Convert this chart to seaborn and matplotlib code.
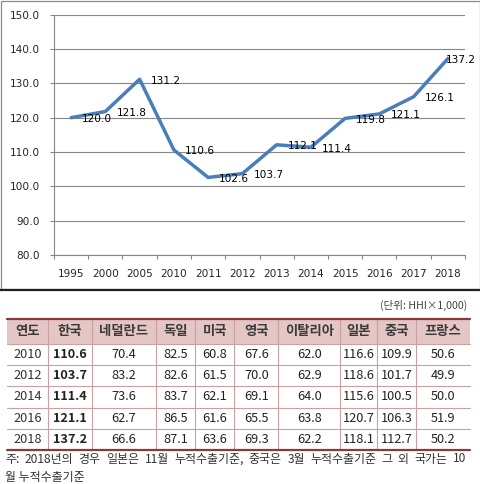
import matplotlib
matplotlib.use('Agg')
import matplotlib.pyplot as plt
from matplotlib.patches import Rectangle
from matplotlib.ticker import FormatStrFormatter
import seaborn as sns
import pandas as pd
import numpy as np

# ---- chart data ----
years = ['1995', '2000', '2005', '2010', '2011', '2012',
         '2013', '2014', '2015', '2016', '2017', '2018']
hhi = [120.0, 121.8, 131.2, 110.6, 102.6, 103.7,
       112.1, 111.4, 119.8, 121.1, 126.1, 137.2]

# ---- table data ----
table_header = ['연도', '한국', '네덜란드', '독일', '미국', '영국',
                '이탈리아', '일본', '중국', '프랑스']
table_years = ['2010', '2012', '2014', '2016', '2018']
korea = [110.6, 103.7, 111.4, 121.1, 137.2]
netherlands = [70.4, 83.2, 73.6, 62.7, 66.6]
germany = [82.5, 82.6, 83.7, 86.5, 87.1]
usa = [60.8, 61.5, 62.1, 61.6, 63.6]
uk = [67.6, 70.0, 69.1, 65.5, 69.3]
italy = [62.0, 62.9, 64.0, 63.8, 62.2]
japan = [116.6, 118.6, 115.6, 120.7, 118.1]
china = [109.9, 101.7, 100.5, 106.3, 112.7]
france = [50.6, 49.9, 50.0, 51.9, 50.2]
unit_text = '(단위: HHI×1,000)'
note_lines = ['주: 2018년의 경우 일본은 11월 누적수출기준, 중국은 3월 누적수출기준 그 외 국가는 10',
              '월 누적수출기준']

W, H = 481, 484
sns.set_style('white')
plt.rcParams['font.family'] = ['DejaVu Sans']
kr_font = ['Noto Sans CJK KR', 'DejaVu Sans']

fig = plt.figure(figsize=(W / 100, H / 100), dpi=100)

# background axes in pixel coordinates (frame + table)
bg = fig.add_axes([0, 0, 1, 1])
bg.set_xlim(0, W)
bg.set_ylim(H, 0)
bg.axis('off')

# chart frame
bg.add_patch(Rectangle((0.5, 0.5), 479.5, 288.5, fill=False, edgecolor='#8c8c8c', lw=0.9))
bg.plot([0, 481], [289.5, 289.5], color='#202020', lw=1.6)

# ── line chart ──
ax = fig.add_axes([54 / W, 1 - 255 / H, (465 - 54) / W, (255 - 14.7) / H])
df = pd.DataFrame({'year': years, 'hhi': hhi})
sns.lineplot(data=df, x='year', y='hhi', ax=ax, color='#4a7ebb', lw=2.5, sort=False)

ax.set_xlim(-0.5, len(years) - 0.5)
ax.set_ylim(80, 150)
ax.set_yticks(np.arange(80, 151, 10))
ax.yaxis.set_major_formatter(FormatStrFormatter('%.1f'))
ax.set_xlabel('')
ax.set_ylabel('')
ax.yaxis.grid(True, color='#868686', lw=0.8)
ax.xaxis.grid(False)
for s in ['top', 'right']:
    ax.spines[s].set_visible(False)
for s in ['left', 'bottom']:
    ax.spines[s].set_color('#868686')
    ax.spines[s].set_linewidth(0.8)

ax.set_xticks(np.arange(-0.5, len(years), 1), minor=True)
ax.tick_params(axis='x', which='major', length=0, pad=10, labelsize=7.6, bottom=True)
ax.tick_params(axis='x', which='minor', length=3, color='#868686', width=0.8, bottom=True)
ax.tick_params(axis='y', which='major', length=3, color='#868686', width=0.8, pad=7,
               labelsize=7.6, left=True)

# data labels (right of the point)
offsets = [(11, -1.5)] * (len(years) - 1) + [(-2, -1.5)]
for i, (yr, v) in enumerate(zip(years, hhi)):
    ax.annotate(f'{v:.1f}', (i, v), xytext=offsets[i], textcoords='offset pixels',
                ha='left', va='center', fontsize=7.6, color='black')

# ── table ──
xs = [7, 47.7, 92.3, 155.7, 195, 234.5, 278.3, 340, 376.7, 416, 470]
ys = [319, 344, 365.2, 386.4, 407.6, 428.8, 450]
columns = [korea, netherlands, germany, usa, uk, italy, japan, china, france]

bg.add_patch(Rectangle((xs[0], ys[0]), xs[-1] - xs[0], ys[1] - ys[0],
                       facecolor='#e4c6c6', edgecolor='none'))
for y in ys[1:-1]:
    bg.plot([xs[0], xs[-1]], [y, y], color='#c9a1a1', lw=0.8)
for x in xs[1:-1]:
    bg.plot([x, x], [ys[0], ys[-1]], color='#c9a1a1', lw=0.8)
bg.plot([xs[0], xs[-1]], [ys[0], ys[0]], color='#8b3a3a', lw=1.6)
bg.plot([xs[0], xs[-1]], [ys[-1], ys[-1]], color='#8b3a3a', lw=1.6)

centers = [(a + b) / 2 for a, b in zip(xs[:-1], xs[1:])]
for cx, name in zip(centers, table_header):
    bg.text(cx, (ys[0] + ys[1]) / 2, name, ha='center', va='center', fontsize=9.6,
            family=kr_font, weight='bold', color='#3a3a3a')

for r, yr in enumerate(table_years):
    cy = (ys[r + 1] + ys[r + 2]) / 2
    bg.text(centers[0], cy, yr, ha='center', va='center', fontsize=9.2,
            family=kr_font, color='#333333')
    for c, col in enumerate(columns):
        bg.text(centers[c + 1], cy, f'{col[r]:.1f}', ha='center', va='center',
                fontsize=9.2, family=kr_font, color='#222222',
                weight='bold' if c == 0 else 'normal')

bg.text(467, 305, unit_text, ha='right', va='center', fontsize=7.6, family=kr_font,
        color='#444444')

# note: first line justified across the table width
renderer = fig.canvas.get_renderer()
words = note_lines[0].split(' ')
word_txt = [bg.text(0, 459, w, ha='left', va='center', fontsize=8.6, family=kr_font,
                    color='#333333') for w in words]
widths = [t.get_window_extent(renderer).width for t in word_txt]
left, right = 5, 466
gap = (right - left - sum(widths)) / (len(words) - 1)
x = left
for t, w in zip(word_txt, widths):
    t.set_x(x)
    x += w + gap
bg.text(5, 477, note_lines[1], ha='left', va='center', fontsize=8.6, family=kr_font,
        color='#333333')

fig.savefig('out.png', dpi=100)
